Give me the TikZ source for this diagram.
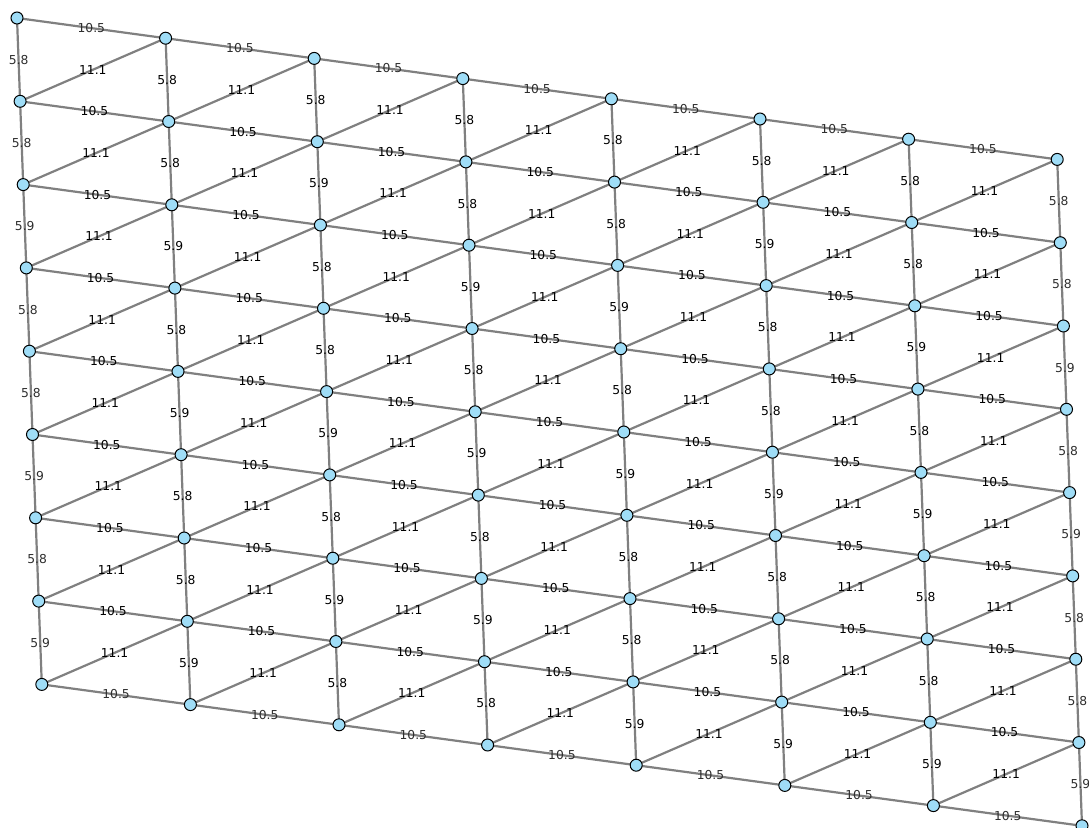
\documentclass[tikz,border=0pt]{standalone}
\usepackage{fontspec}
\setmainfont{DejaVu Sans}
\usepackage{xcolor}
\usepackage{tikz}
\usetikzlibrary{calc}
\definecolor{wire}{HTML}{808080}
\definecolor{site}{HTML}{9FDDF7}
\definecolor{ink}{HTML}{000000}
\tikzset{
  dot/.style={circle,draw=ink,fill=site,line width=1pt,minimum size=12pt,inner sep=0pt},
  bar/.style={draw=wire,line width=2.2pt},
  lbl0/.style={font=\fontsize{12.3}{13}\selectfont,text=ink,inner sep=0pt},
  lbl1/.style={font=\fontsize{12.3}{13}\selectfont,text=ink!82,inner sep=0pt}
}

\begin{document}
\begin{tikzpicture}[x=1pt,y=-1pt]
  \useasboundingbox (0,0) rectangle (1089,827);
  \foreach \i in {0,...,7}
    \foreach \j in {0,...,8}
      \coordinate (p-\i-\j) at ({17+148.6*\i+3.1*\j},{18+20.2*\i+83.3*\j});
  % bars
  \foreach \i in {0,...,7}
    \foreach \j in {0,...,8} {
      \pgfmathtruncatemacro\ii{\i+1}
      \pgfmathtruncatemacro\jj{\j+1}
      \ifnum\i<7 \draw[bar] (p-\i-\j) -- (p-\ii-\j); \fi
      \ifnum\j<8 \draw[bar] (p-\i-\j) -- (p-\i-\jj); \fi
      \ifnum\i<7 \ifnum\j<8 \draw[bar] (p-\i-\jj) -- (p-\ii-\j); \fi\fi
    }
  % sites
  \foreach \i in {0,...,7}
    \foreach \j in {0,...,8} \node[dot] (n-\i-\j) at (p-\i-\j) {};
  % lengths
  \foreach \i in {0,...,6}
    \foreach \j in {0,...,8} {
      \pgfmathtruncatemacro\ii{\i+1}
      \pgfmathtruncatemacro\jj{\j+1}
      \pgfmathtruncatemacro\rim{(\j==0)||(\j==8)}
      \path (n-\i-\j) -- node[lbl\rim] {10.5} (n-\ii-\j);
      \ifnum\j<8 \path (n-\i-\jj) -- node[lbl0] {11.1} (n-\ii-\j); \fi
    }
  \foreach \d [count=\k from 0] in {8,8,9,8,8,9,8,9, 8,8,9,8,9,8,8,9, 8,9,8,8,9,8,9,8, 8,8,9,8,9,8,9,8,
                                   8,8,9,8,9,8,8,9, 8,9,8,8,9,8,8,9, 8,8,9,8,9,8,8,9, 8,8,9,8,9,8,8,9} {
    \pgfmathtruncatemacro\i{floor(\k/8)}
    \pgfmathtruncatemacro\j{mod(\k,8)}
    \pgfmathtruncatemacro\jj{\j+1}
    \pgfmathtruncatemacro\rim{(\i==0)||(\i==7)}
    \path (n-\i-\j) -- node[lbl\rim] {5.\d} (n-\i-\jj);
  }
\end{tikzpicture}
\end{document}
